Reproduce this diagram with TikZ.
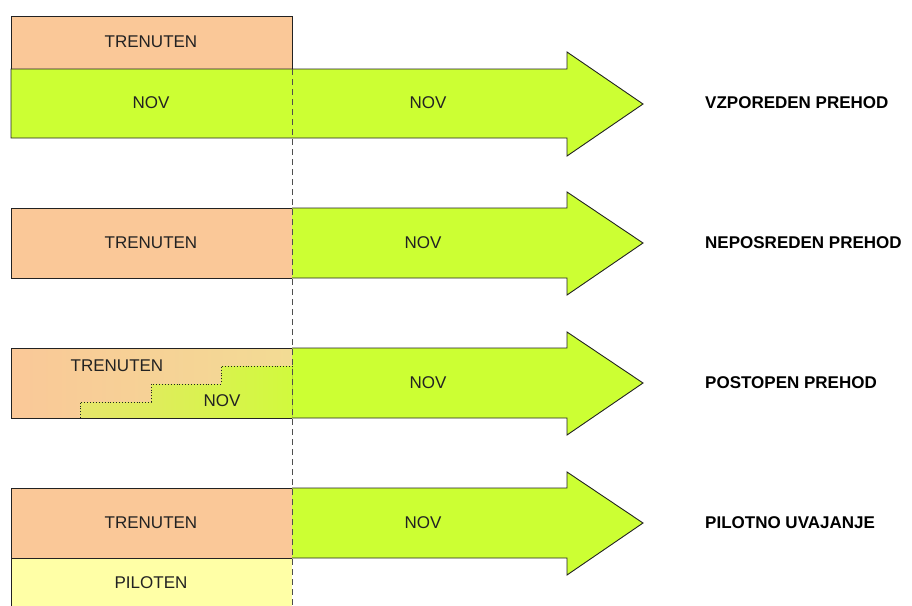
\documentclass[tikz,border=0pt]{standalone}
\usepackage{fontspec}
\setmainfont{Liberation Sans}
\definecolor{peach}{HTML}{FAC898}
\definecolor{lime}{HTML}{CCFF33}
\definecolor{pale}{HTML}{FFFFA6}
\definecolor{ink}{HTML}{222222}
\begin{document}
\begin{tikzpicture}[x=1pt,y=-1pt]
        \tikzstyle{box}=[draw=ink,line width=0.9pt]
        \tikzstyle{txt}=[text=ink,font=\fontsize{17}{20}\selectfont,inner sep=0pt]
        \tikzstyle{lbl}=[text=black,font=\fontsize{17}{20}\selectfont\bfseries,anchor=west,inner sep=0pt]

      \useasboundingbox (0,0) rectangle (912,605);

      \begin{scope}
         % vzporeden prehod
         \draw[box,fill=peach] (11,16) rectangle (292,69);
         \draw[box,fill=lime] (11,69) -- (567,69) -- (567,52) -- (643,104)
              -- (567,156) -- (567,138) -- (11,138) -- cycle;

         % neposreden prehod
         \draw[box,fill=lime] (292,208) -- (567,208) -- (567,192) -- (643,243)
              -- (567,295) -- (567,278) -- (292,278);
         \draw[box,fill=peach] (292,208) -- (11,208) -- (11,278) -- (292,278);

         % postopen prehod
         \draw[box,fill=lime] (292,348) -- (567,348) -- (567,332) -- (643,383)
              -- (567,435) -- (567,418) -- (292,418);
         \fill[left color=peach,right color={rgb,1:red,0.95;green,0.86;blue,0.58}]
              (11,348) rectangle (292,418);
         \fill[left color={rgb,1:red,0.9;green,0.9;blue,0.42},right color={rgb,1:red,0.82;green,0.98;blue,0.24}]
              (80,418) |- (151,402) |- (221,384) |- (292,366) -- (292,418) -- cycle;
         \draw[ink,dotted,line width=0.9pt] (80,418) |- (151,402) |- (221,384) |- (292,366);
         \draw[box] (292,348) -- (11,348) -- (11,418) -- (292,418);

         % pilotno uvajanje
         \draw[box,fill=lime] (292,488) -- (567,488) -- (567,472) -- (643,523)
              -- (567,575) -- (567,558) -- (292,558);
         \draw[box,fill=peach] (292,488) -- (11,488) -- (11,558) -- (292,558);
         \fill[pale] (11,558) rectangle (292,606);
         \draw[box] (292,558) -- (11,558) -- (11,606);

         \coordinate (cuttop) at (292,69);
         \coordinate (cutbot) at (292,605);
         \draw[ink!80,line width=0.9pt,dash pattern=on 6pt off 4pt] (cuttop) -- (cutbot);

         \node[txt] (t1) at (151,42)  {TRENUTEN};
         \node[txt] (n1a) at (151,103) {NOV};
         \node[txt] (n1b) at (428,103) {NOV};

         \node[txt] (t2) at (151,243) {TRENUTEN};
         \node[txt] (n2) at (423,243) {NOV};

         \node[txt] (t3) at (117,366) {TRENUTEN};
         \node[txt] (n3a) at (222,401) {NOV};
         \node[txt] (n3b) at (428,383) {NOV};

         \node[txt] (t4) at (151,523) {TRENUTEN};
         \node[txt] (n4) at (423,523) {NOV};
         \node[txt] (pil) at (151,583) {PILOTEN};

         \node[lbl] (l1) at (705,103) {VZPOREDEN PREHOD};
         \node[lbl] (l2) at (705,243) {NEPOSREDEN PREHOD};
         \node[lbl] (l3) at (705,383) {POSTOPEN PREHOD};
         \node[lbl] (l4) at (705,523) {PILOTNO UVAJANJE};
      \end{scope}
    \end{tikzpicture}
\end{document}
